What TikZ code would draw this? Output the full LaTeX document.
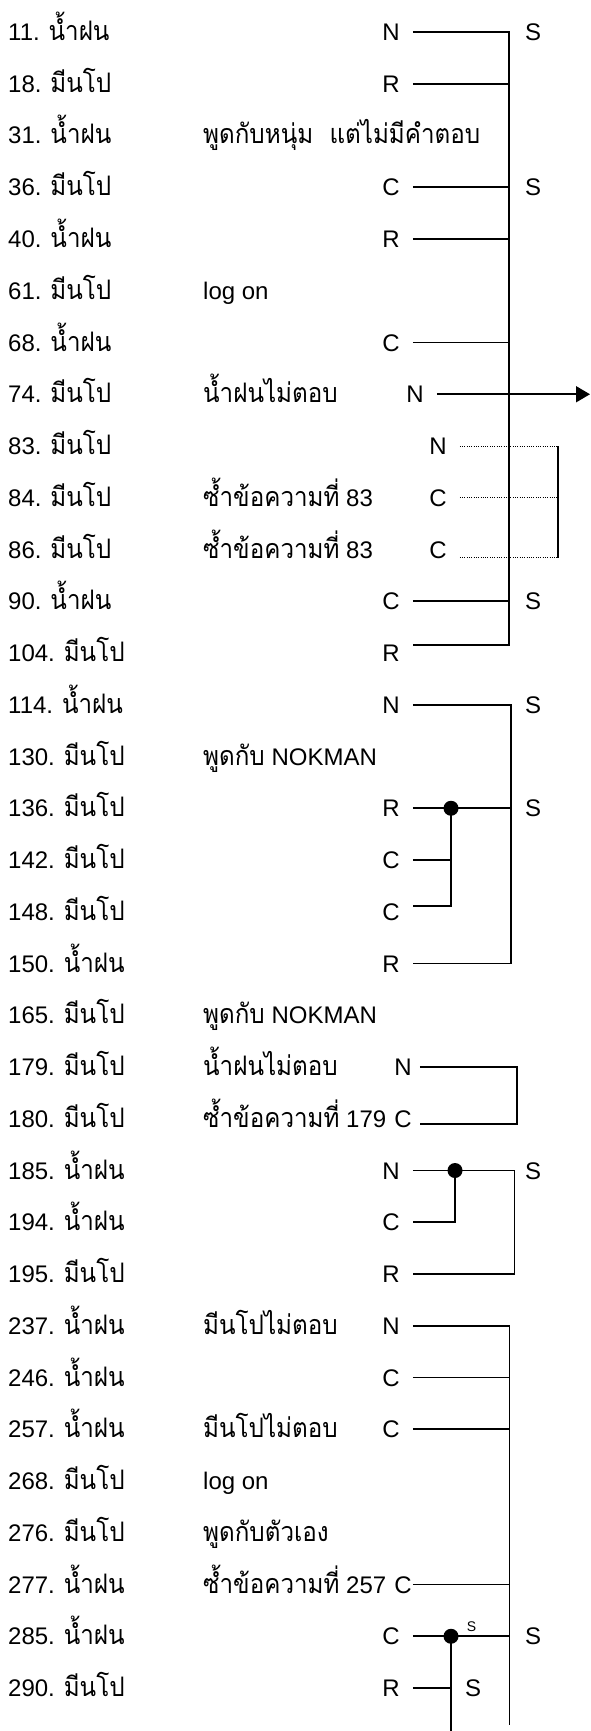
\documentclass[tikz,border=0pt]{standalone}
\usepackage{fontspec}
\setmainfont{Liberation Sans}
\newfontfamily\thaifont[Script=Thai, Scale=1.12, FakeStretch=0.9]{Loma}
\usetikzlibrary{arrows.meta}
\newcommand{\namfon}{{\thaifont น้ำฝน}}
\newcommand{\meenpo}{{\thaifont มีนโป}}

\begin{document}
\begin{tikzpicture}[x=1pt,y=-1pt,
  every node/.style={font=\fontsize{24}{28}\selectfont},
  who/.style={anchor=west, inner sep=0pt, text height=17pt, text depth=0pt},
  note/.style={who},
  code/.style={inner xsep=13pt, inner ysep=0pt, text height=17pt, text depth=0pt},
  lbl/.style={inner sep=0pt, text height=17pt, text depth=0pt},
  link/.style={line width=1.7pt},
  dots/.style={line width=1pt, dash pattern=on 1pt off 1.3pt},
  dot/.style={circle, fill, inner sep=0pt, minimum size=15pt}]
  \useasboundingbox (0,0) rectangle (591,1731);
  % rows
  \foreach \i/\n/\w in {0/11/\namfon, 1/18/\meenpo, 2/31/\namfon, 3/36/\meenpo,
      4/40/\namfon, 5/61/\meenpo, 6/68/\namfon, 7/74/\meenpo, 8/83/\meenpo,
      9/84/\meenpo, 10/86/\meenpo, 11/90/\namfon, 12/104/\meenpo, 13/114/\namfon,
      14/130/\meenpo, 15/136/\meenpo, 16/142/\meenpo, 17/148/\meenpo, 18/150/\namfon,
      19/165/\meenpo, 20/179/\meenpo, 21/180/\meenpo, 22/185/\namfon, 23/194/\namfon,
      24/195/\meenpo, 25/237/\namfon, 26/246/\namfon, 27/257/\namfon, 28/268/\meenpo,
      29/276/\meenpo, 30/277/\namfon, 31/285/\namfon, 32/290/\meenpo}
    \node[who] (r\n) at (8, {32+51.75*\i}) {\n. \w};
  % remarks
  \node[note] (m31)  at (203,0 |- r31)  {\thaifont พูดกับหนุ่ม\ \ แต่ไม่มีคำตอบ};
  \node[note] (m61)  at (203,0 |- r61)  {log on};
  \node[note] (m74)  at (203,0 |- r74)  {\thaifont น้ำฝนไม่ตอบ};
  \node[note] (m84)  at (203,0 |- r84)  {{\thaifont ซ้ำข้อความที่} 83};
  \node[note] (m86)  at (203,0 |- r86)  {{\thaifont ซ้ำข้อความที่} 83};
  \node[note] (m130) at (203,0 |- r130) {{\thaifont พูดกับ} NOKMAN};
  \node[note] (m165) at (203,0 |- r165) {{\thaifont พูดกับ} NOKMAN};
  \node[note] (m179) at (203,0 |- r179) {\thaifont น้ำฝนไม่ตอบ};
  \node[note] (m180) at (203,0 |- r180) {{\thaifont ซ้ำข้อความที่} 179};
  \node[note] (m237) at (203,0 |- r237) {\thaifont มีนโปไม่ตอบ};
  \node[note] (m257) at (203,0 |- r257) {\thaifont มีนโปไม่ตอบ};
  \node[note] (m268) at (203,0 |- r268) {log on};
  \node[note] (m276) at (203,0 |- r276) {\thaifont พูดกับตัวเอง};
  \node[note] (m277) at (203,0 |- r277) {{\thaifont ซ้ำข้อความที่} 257};
  % codes
  \foreach \n/\t in {11/N, 18/R, 36/C, 40/R, 68/C, 90/C, 104/R, 114/N, 136/R,
      142/C, 148/C, 150/R, 185/N, 194/C, 195/R, 237/N, 246/C, 257/C, 285/C, 290/R}
    \node[code] (c\n) at (391,0 |- r\n) {\t};
  \node[code] (c74)  at (415,0 |- r74)  {N};
  \node[code] (c83)  at (438,0 |- r83)  {N};
  \node[code] (c84)  at (438,0 |- r84)  {C};
  \node[code] (c86)  at (438,0 |- r86)  {C};
  \node[code, inner xsep=8pt] (c179) at (403,0 |- r179) {N};
  \node[code, inner xsep=8pt] (c180) at (403,0 |- r180) {C};
  \node[code, inner xsep=1pt] (c277) at (403,0 |- r277) {C};
  \foreach \n in {11, 36, 90, 114, 136, 185, 285}
    \node[lbl] (s\n) at (533,0 |- r\n) {S};
  \node[lbl, font=\fontsize{14}{16}\selectfont, text height=10pt] (s285b) at (471.5,1626) {S};
  \node[lbl] (s290) at (473,0 |- r290) {S};
  % bars
  \coordinate (ba) at (509,0);
  \coordinate (bq) at (558,0);
  \coordinate (tip) at (590,0);
  \coordinate (bb) at (511,0);
  \coordinate (sb) at (451,0);
  \coordinate (bk) at (517,0);
  \coordinate (bc) at (514.5,0);
  \coordinate (sc) at (455,0);
  \coordinate (endD) at (509.5,1725);
  \coordinate (endS) at (451,1731);
  \coordinate (e104) at ([yshift=8pt]c104.east);
  \coordinate (e86) at ([yshift=-8pt]c86.east);
  \coordinate (e148) at ([yshift=6pt]c148.east);
  \coordinate (e180) at ([yshift=-5pt]c180.east);
  % 11--104
  \draw[link] (c11.east) -| (e104 -| ba) -- (e104);
  \foreach \n in {18, 36, 40, 68, 90}
    \draw[link] (c\n.east) -- (c\n.east -| ba);
  \draw[link, -{Triangle[length=14pt, width=16pt]}] (c74.east) -- (c74.east -| tip);
  \draw[dots] (c83.east) -- (c83.east -| bq);
  \draw[dots] (c84.east) -- (c84.east -| bq);
  \draw[dots] (e86) -- (e86 -| bq);
  \draw[link] (c83.east -| bq) -- (e86 -| bq);
  % 114--150
  \draw[link] (c114.east) -| (c150.east -| bb) -- (c150.east);
  \draw[link] (c136.east) -- (c136.east -| bb);
  \node[dot] (d136) at (c136.east -| sb) {};
  \draw[link] (d136.center) -- (e148 -| sb) -- (e148);
  \draw[link] (c142.east) -- (c142.east -| sb);
  % 179--180
  \draw[link] (c179.east) -| (e180 -| bk) -- (e180);
  % 185--195
  \draw[link] (c185.east) -| (c195.east -| bc) -- (c195.east);
  \node[dot] (d185) at (c185.east -| sc) {};
  \draw[link] (d185.center) |- (c194.east);
  % 237--290
  \draw[link] (c237.east) -| (endD);
  \foreach \n in {246, 257, 277, 285}
    \draw[link] (c\n.east) -- (c\n.east -| endD);
  \node[dot] (d285) at (c285.east -| endS) {};
  \draw[link] (d285.center) -- (endS);
  \draw[link] (c290.east) -- (c290.east -| endS);
\end{tikzpicture}
\end{document}
